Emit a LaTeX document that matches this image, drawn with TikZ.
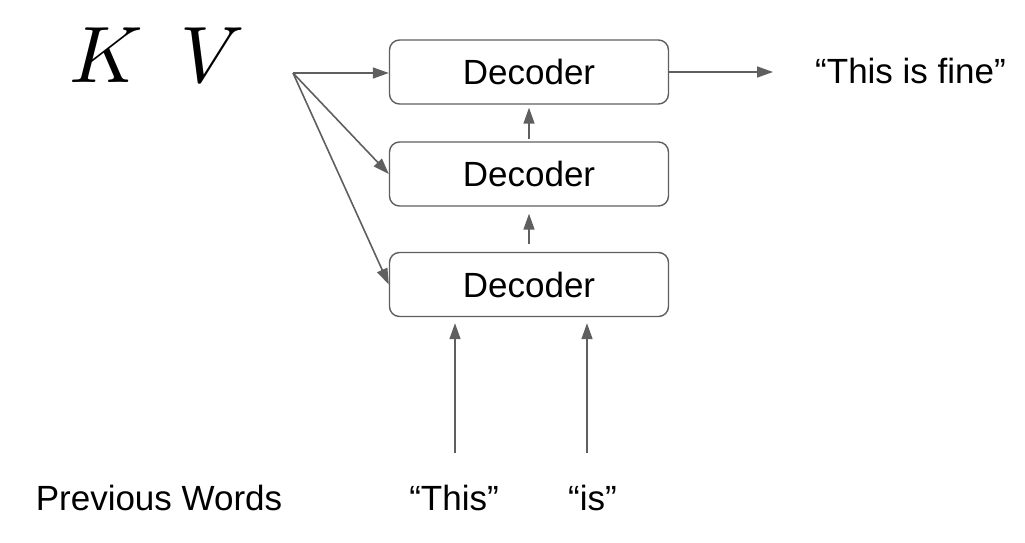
\documentclass[tikz,border=0pt]{standalone}
\usepackage{fontspec}
\setmainfont{Liberation Sans}
\usepackage{unicode-math}
\setmathfont{Latin Modern Math}
\usetikzlibrary{arrows.meta}
\definecolor{linegray}{HTML}{5F5F5F}
\tikzset{
  dec/.style={draw=linegray, line width=1.4pt, rounded corners=10pt, minimum width=279pt, minimum height=64pt, inner sep=0pt, font=\fontsize{35}{40}\selectfont},
  lbl/.style={inner sep=0pt, font=\fontsize{35}{40}\selectfont, anchor=base},
  mathlbl/.style={inner sep=0pt, font=\fontsize{80}{90}\selectfont, anchor=base},
  arr/.style={draw=linegray, line width=1.6pt, -{Triangle[length=16pt,width=11pt]}}
}
\begin{document}
\begin{tikzpicture}[x=1pt,y=-1pt]
\useasboundingbox (0,0) rectangle (1025,543);
\node[mathlbl] (K) at (106,82) {$K$};
\node[mathlbl] (V) at (212,82) {$V$};
\node[dec] (b1) at (529,72) {Decoder};
\node[dec] (b2) at (529,174) {Decoder};
\node[dec] (b3) at (529,284.5) {Decoder};
\coordinate (src) at (293,73);
\draw[arr] (src) -- (b1.west |- src);
\draw[arr] (src) -- (b2.west);
\draw[arr] (src) -- (b3.west);
\draw[arr, shorten <=8pt, shorten >=7pt] (b3.north) -- (b2.south);
\draw[arr, shorten <=2pt, shorten >=3pt] (b2.north) -- (b1.south);
\node[lbl, anchor=base west] (out) at (815,83.5) {“This is fine”};
\draw[arr, shorten >=42pt] (b1.east) -- (out.west |- b1.east);
\node[lbl] (w0) at (159,510) {Previous Words};
\node[lbl] (w1) at (454,510) {“This”};
\node[lbl] (w2) at (592.5,510) {“is”};
\coordinate (a1) at (455,453);
\coordinate (a2) at (587,453);
\draw[arr, shorten >=6pt] (a1) -- (a1 |- b3.south);
\draw[arr, shorten >=6pt] (a2) -- (a2 |- b3.south);
\end{tikzpicture}
\end{document}
